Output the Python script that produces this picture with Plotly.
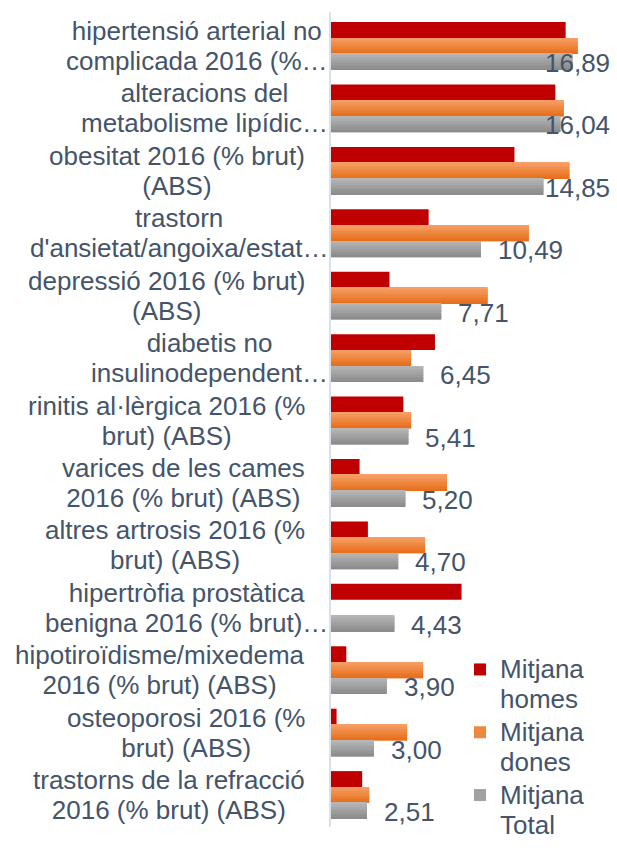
import plotly.graph_objects as go

# Diagnoses (two-line labels as shown on the axis)
categories = [
    "hipertensió arterial no<br>complicada 2016 (%…",
    "alteracions del<br>metabolisme lipídic…",
    "obesitat 2016 (% brut)<br>(ABS)",
    "trastorn<br>d'ansietat/angoixa/estat…",
    "depressió 2016 (% brut)<br>(ABS)",
    "diabetis no<br>insulinodependent…",
    "rinitis al·lèrgica 2016 (%<br>brut) (ABS)",
    "varices de les cames<br>2016 (% brut) (ABS)",
    "altres artrosis 2016 (%<br>brut) (ABS)",
    "hipertròfia prostàtica<br>benigna 2016 (% brut)…",
    "hipotiroïdisme/mixedema<br>2016 (% brut) (ABS)",
    "osteoporosi 2016 (%<br>brut) (ABS)",
    "trastorns de la refracció<br>2016 (% brut) (ABS)",
]

mitjana_homes = [16.41, 15.69, 12.83, 6.83, 4.09, 7.27, 5.06, 2.00, 2.58, 9.13, 1.07, 0.39, 2.18]
mitjana_dones = [17.25, 16.27, 16.67, 13.83, 10.95, 5.60, 5.60, 8.11, 6.58, 0.00, 6.44, 5.32, 2.67]
mitjana_total = [16.89, 16.04, 14.85, 10.49, 7.71, 6.45, 5.41, 5.20, 4.70, 4.43, 3.90, 3.00, 2.51]

series_names = ["Mitjana homes", "Mitjana dones", "Mitjana Total"]

# ---- layout geometry (pixels) ----
W, H = 617, 848
TOP, BOTTOM = 12, 21
PLOT_LEFT = 331
XMAX = 20.0

TEXT = "#44546A"
FONT = "Liberation Sans, Arial, sans-serif"
BIG = 26      # glyph size
LINE = 23     # base size -> line spacing 1.3*23 ~ 30px

BAR_H = 0.2552           # height of one bar in category units
OFFS = [-1.5 * BAR_H, -0.5 * BAR_H, 0.5 * BAR_H]
NBANDS = 10


def big(s):
    return "<br>".join(f'<span style="font-size:{BIG}px">{p}</span>' for p in s.split("<br>"))


def lerp(c1, c2, t):
    a = [int(c1[i:i + 2], 16) for i in (1, 3, 5)]
    b = [int(c2[i:i + 2], 16) for i in (1, 3, 5)]
    return "#" + "".join(f"{round(a[j] + (b[j] - a[j]) * t):02x}" for j in range(3))


fig = go.Figure()

# solid red for men, vertical gradients for women and total
fills = [
    ("#C00000", "#C00000"),
    ("#F59F66", "#E8701C"),
    ("#B6B6B6", "#8C8C8C"),
]
values = [mitjana_homes, mitjana_dones, mitjana_total]

for k, (name, vals, (c_top, c_bot)) in enumerate(zip(series_names, values, fills)):
    fig.add_trace(go.Bar(
        y=categories, x=vals, orientation="h", name=big(name.replace(" ", "<br>")),
        marker=dict(color=lerp(c_top, c_bot, 0.5), line=dict(width=0)),
        width=BAR_H, offset=OFFS[k], hoverinfo="skip",
    ))
    if c_top != c_bot:
        bw = BAR_H / NBANDS
        for b in range(NBANDS):
            fig.add_trace(go.Bar(
                y=categories, x=vals, orientation="h", showlegend=False,
                marker=dict(color=lerp(c_top, c_bot, b / (NBANDS - 1)), line=dict(width=0)),
                width=bw * 1.02, offset=OFFS[k] + b * bw, hoverinfo="skip",
            ))

annotations = []
# category labels: block right-aligned, lines centred
for cat in categories:
    right = 330 if "…" in cat else 307
    annotations.append(dict(
        x=right / W, xref="paper", y=cat, yref="y", xanchor="right", yanchor="middle",
        text=big(cat), align="center", showarrow=False,
        font=dict(family=FONT, size=LINE, color=TEXT),
    ))

# value labels beside the total bars
px_per_unit = (W - PLOT_LEFT) / XMAX
for cat, v in zip(categories, mitjana_total):
    lbl = f"{v:.2f}".replace(".", ",")
    end_px = PLOT_LEFT + v * px_per_unit + 16 + 65
    if end_px > 612:
        annotations.append(dict(x=612 / W, xref="paper", y=cat, yref="y", xanchor="right",
                                yanchor="middle", yshift=-17, text=lbl, showarrow=False,
                                font=dict(family=FONT, size=BIG, color=TEXT)))
    else:
        annotations.append(dict(x=v, xref="x", y=cat, yref="y", xanchor="left",
                                yanchor="middle", xshift=15, yshift=-17, text=lbl, showarrow=False,
                                font=dict(family=FONT, size=BIG, color=TEXT)))

plot_h = H - TOP - BOTTOM


def py(px):
    return 1 - (px - TOP) / plot_h


fig.update_layout(
    width=W, height=H,
    margin=dict(l=0, r=0, t=TOP, b=BOTTOM, pad=0),
    paper_bgcolor="white", plot_bgcolor="white",
    barmode="overlay",
    showlegend=True,
    legend=dict(
        x=460 / W, xanchor="left", y=py(648), yanchor="top",
        font=dict(family=FONT, size=LINE, color=TEXT),
        bgcolor="rgba(0,0,0,0)", valign="top", tracegroupgap=0, itemclick=False,
    ),
    xaxis=dict(domain=[PLOT_LEFT / W, 1], range=[0, XMAX], visible=False,
               showgrid=False, zeroline=False),
    yaxis=dict(autorange="reversed", showticklabels=False, ticks="",
               showgrid=False, zeroline=False,
               showline=True, linecolor="#D9E0E9", linewidth=2),
    annotations=annotations,
)

fig.write_html("out.html")
